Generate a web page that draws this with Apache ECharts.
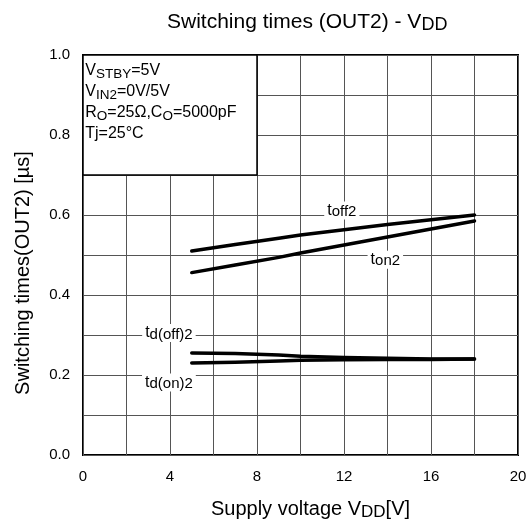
<!DOCTYPE html>
<html>
<head>
<meta charset="utf-8">
<script src="https://cdn.jsdelivr.net/npm/echarts@6/dist/echarts.min.js"></script>
<style>html,body{margin:0;padding:0;background:#fff}#c{width:530px;height:526px}</style>
</head>
<body>
<div id="c"></div>
<script>
var vdd = [5, 7, 9, 10, 12, 14, 16, 18];
var tOff2 = [0.510, 0.526, 0.542, 0.550, 0.563, 0.576, 0.588, 0.600];
var tOn2 = [0.456, 0.475, 0.494, 0.505, 0.525, 0.545, 0.565, 0.585];
var tdOff2 = [0.255, 0.254, 0.250, 0.247, 0.244, 0.242, 0.240, 0.240];
var tdOn2 = [0.230, 0.232, 0.235, 0.237, 0.238, 0.239, 0.239, 0.240];
var xTicks = [0, 4, 8, 12, 16, 20];
var yTicks = [0.0, 0.2, 0.4, 0.6, 0.8, 1.0];

var FONT = '"Liberation Sans", Arial, sans-serif';
function subStyle(fs, lh) {
  return { fontSize: fs, lineHeight: lh, verticalAlign: 'bottom', fontFamily: FONT, color: '#000' };
}

function pairs(ys) { return vdd.map(function (x, i) { return [x, ys[i]]; }); }
function lineSeries(name, ys) {
  return {
    name: name, type: 'line', data: pairs(ys), showSymbol: false, symbol: 'none',
    lineStyle: { color: '#000', width: 3.5, cap: 'round', join: 'round' },
    animation: false, z: 3
  };
}
function tag(coord, text) {
  return {
    coord: coord, symbol: 'rect', symbolSize: 0,
    label: {
      show: true, position: 'inside', formatter: text,
      backgroundColor: '#fff', padding: [0, 3, 0, 3],
      fontSize: 16, fontFamily: FONT, color: '#000', lineHeight: 18,
      rich: { s: subStyle(15, 11) }
    }
  };
}

var series = [
  lineSeries('toff2', tOff2),
  lineSeries('ton2', tOn2),
  lineSeries('tdoff2', tdOff2),
  lineSeries('tdon2', tdOn2)
];
series[0].markArea = {
  silent: true,
  itemStyle: { color: '#fff', borderColor: '#000', borderWidth: 1.5 },
  label: {
    show: true, position: 'insideTopLeft', distance: 0,
    padding: [6, 0, 0, 3],
    fontSize: 16, lineHeight: 21, fontFamily: FONT, color: '#000',
    formatter: 'V{s|STBY}=5V\nV{s|IN2}=0V/5V\nR{s|O}=25Ω,C{s|O}=5000pF\nTj=25°C',
    rich: { s: subStyle(13.5, 13) }
  },
  data: [[{ coord: [0, 1.0] }, { coord: [8, 0.7] }]]
};
series[1].markPoint = {
  silent: true, animation: false,
  data: [
    tag([11.9, 0.611], 't{s|off2}'),
    tag([13.9, 0.488], 't{s|on2}'),
    tag([3.95, 0.305], 't{s|d(off)2}'),
    tag([3.95, 0.181], 't{s|d(on)2}')
  ]
};

var chart = echarts.init(document.getElementById('c'), null, { renderer: 'canvas' });
chart.setOption({
  animation: false,
  backgroundColor: '#fff',
  title: {
    text: 'Switching times (OUT2) - V{s|DD}',
    left: 162, top: 5,
    textStyle: {
      fontSize: 21, fontWeight: 'normal', fontFamily: FONT, color: '#000', lineHeight: 24,
      rich: { s: subStyle(18, 16) }
    }
  },
  grid: { left: 83, right: 12, top: 55, bottom: 71, show: true, borderColor: '#000', borderWidth: 2, backgroundColor: 'transparent' },
  xAxis: {
    type: 'value', min: xTicks[0], max: xTicks[xTicks.length - 1], interval: 4,
    name: 'Supply voltage V{s|DD}[V]', nameLocation: 'middle', nameGap: 43,
    nameTextStyle: {
      fontSize: 20, fontFamily: FONT, color: '#000', lineHeight: 23,
      padding: [0, 0, 0, 20],
      rich: { s: subStyle(17, 15) }
    },
    axisLine: { show: false }, axisTick: { show: false },
    axisLabel: { fontSize: 15, fontFamily: FONT, color: '#000', margin: 14 },
    splitLine: { show: true, lineStyle: { color: '#555', width: 1 } },
    minorTick: { show: false, splitNumber: 2 },
    minorSplitLine: { show: true, lineStyle: { color: '#555', width: 1 } }
  },
  yAxis: {
    type: 'value', min: yTicks[0], max: yTicks[yTicks.length - 1], interval: 0.2,
    name: 'Switching times(OUT2) [µs]', nameLocation: 'middle', nameGap: 50,
    nameTextStyle: { fontSize: 20, fontFamily: FONT, color: '#000', padding: [0, 36, 0, 0] },
    axisLine: { show: false }, axisTick: { show: false },
    axisLabel: { fontSize: 15, fontFamily: FONT, color: '#000', margin: 13, formatter: function (v) { return v.toFixed(1); } },
    splitLine: { show: true, lineStyle: { color: '#555', width: 1 } },
    minorTick: { show: false, splitNumber: 2 },
    minorSplitLine: { show: true, lineStyle: { color: '#555', width: 1 } }
  },
  series: series
});
</script>
</body>
</html>
